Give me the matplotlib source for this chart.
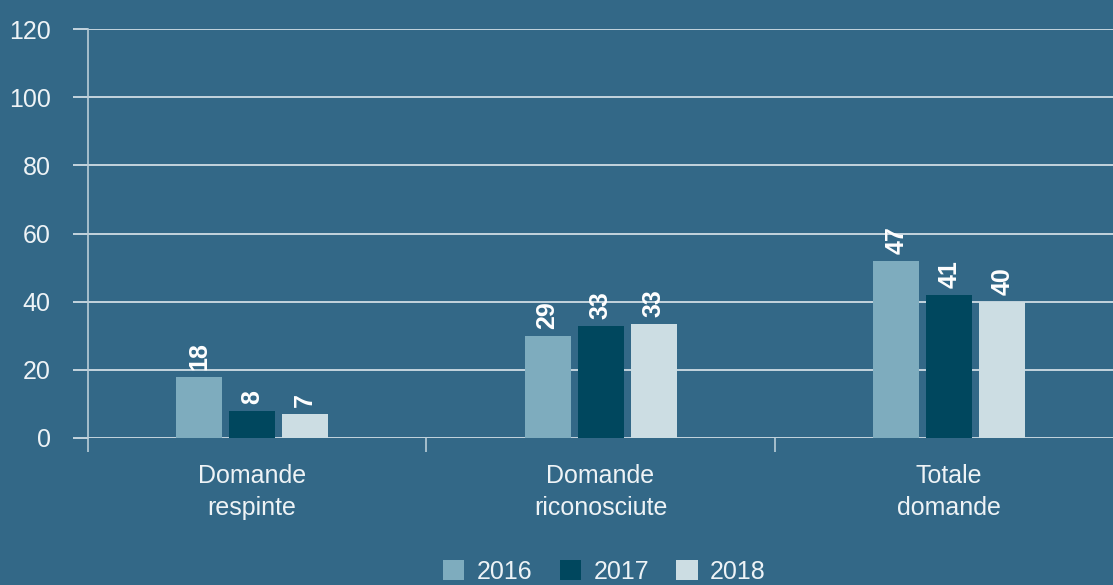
import matplotlib.pyplot as plt
import numpy as np

# data
categories = ['Domande\nrespinte', 'Domande\nriconosciute', 'Totale\ndomande']
years = ['2016', '2017', '2018']
heights = {'2016': [18, 30, 52], '2017': [8, 33, 42], '2018': [7, 33.5, 40]}
labels = {'2016': ['18', '29', '47'], '2017': ['8', '33', '41'], '2018': ['7', '33', '40']}
colors = {'2016': '#7eacbe', '2017': '#00475e', '2018': '#ccdde3'}

bg = '#336887'
fg = '#eef3f6'
plt.rcParams['font.family'] = ['Liberation Sans', 'DejaVu Sans']

fig = plt.figure(figsize=(11.13, 5.85), dpi=100, facecolor=bg)
ax = fig.add_axes([0.0791, 0.2513, 0.9209, 0.6991], facecolor=bg)

x = np.arange(len(categories))
width = 0.132
step = 0.152
for i, yr in enumerate(years):
    pos = x + (i - 1) * step
    bars = ax.bar(pos, heights[yr], width, color=colors[yr], label=yr, zorder=3)
    for b, lab in zip(bars, labels[yr]):
        ax.annotate(lab, (b.get_x() + b.get_width() / 2, b.get_height()),
                    xytext=(0, 5), textcoords='offset points', rotation=90,
                    ha='center', va='bottom', color='white', fontsize=18,
                    fontweight='bold', zorder=4)

ax.set_ylim(0, 120)
ax.set_xlim(-0.47, 2.47)
ax.set_yticks(range(0, 121, 20))
ax.yaxis.grid(True, color='#dde7ec', linewidth=1.2, zorder=1)
ax.tick_params(axis='y', length=11, width=1.2, color='#dde7ec', labelsize=18,
               labelcolor=fg, pad=16)

ax.set_xticks([-0.47, 0.5, 1.5])
ax.set_xticklabels([])
ax.tick_params(axis='x', which='major', length=10, width=1.2, color='#b9cdd8')
ax.set_xticks(x, minor=True)
ax.set_xticklabels(categories, minor=True, fontsize=18, color=fg, linespacing=1.4)
ax.tick_params(axis='x', which='minor', length=0, pad=19)

for s in ['top', 'right', 'bottom']:
    ax.spines[s].set_visible(False)
ax.spines['left'].set_color('#b9cdd8')
ax.spines['left'].set_linewidth(1.2)

fig.legend(loc='lower center', bbox_to_anchor=(0.543, -0.036), ncol=3,
           frameon=False, fontsize=18, labelcolor=fg, handlelength=0.85,
           handleheight=0.85, handletextpad=0.5, columnspacing=1.1)

fig.savefig('out.png', dpi=100, facecolor=bg)
